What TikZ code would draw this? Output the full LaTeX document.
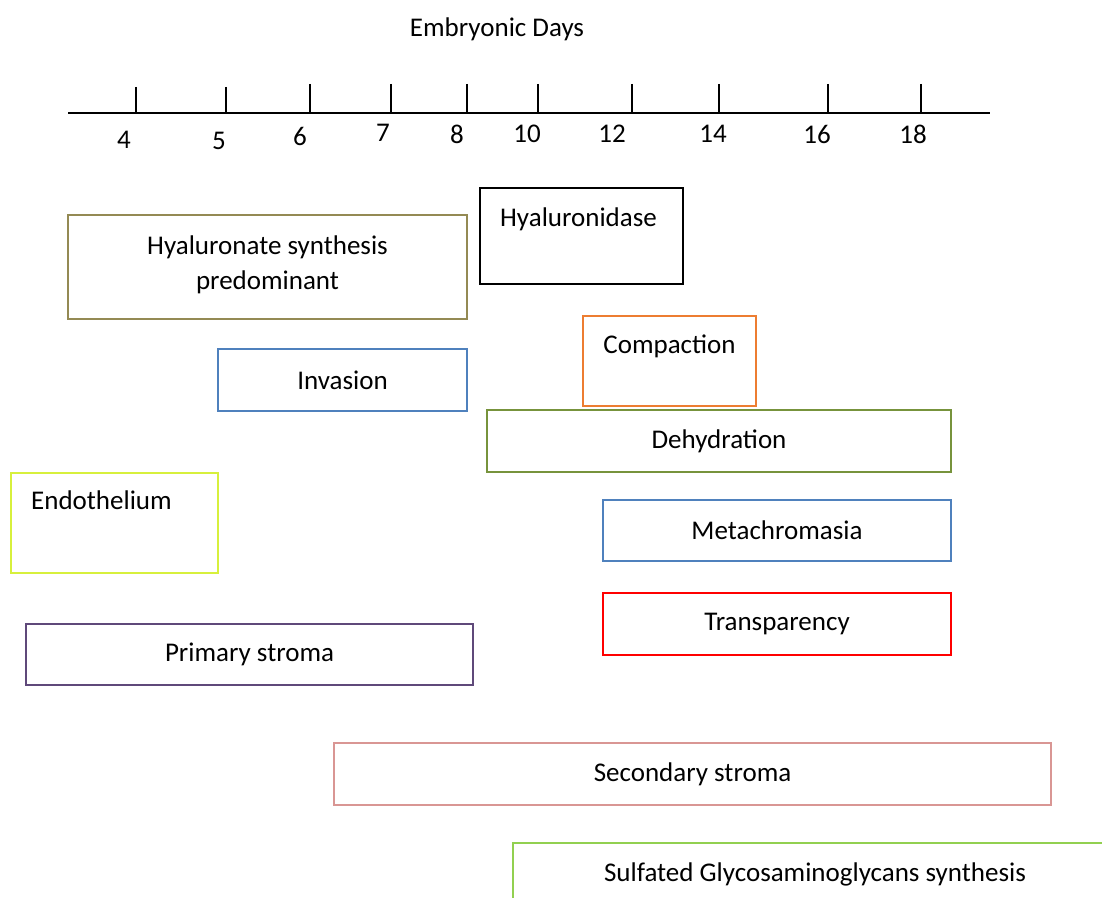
\documentclass[tikz,border=0pt]{standalone}
\usepackage{fontspec}
\setmainfont{Carlito}
\usetikzlibrary{fit}
\definecolor{tanline}{HTML}{948A54}
\definecolor{blueline}{HTML}{4F81BD}
\definecolor{orangeline}{HTML}{ED7D31}
\definecolor{oliveline}{HTML}{77933C}
\definecolor{limeline}{HTML}{D7F03C}
\definecolor{purpleline}{HTML}{5F497A}
\definecolor{pinkline}{HTML}{D99694}
\definecolor{greenline}{HTML}{92D050}
\tikzset{
    phasebox/.style={draw=#1, line width=1pt, inner sep=0pt},
    phasetext/.style={align=center, inner sep=0pt},
    toptext/.style={align=center, inner sep=0pt, anchor=center, yshift=-15.5pt},
    daylabel/.style={inner sep=0pt},
    axisline/.style={line width=1pt}
}
\begin{document}
\begin{tikzpicture}[x=0.5pt, y=-0.5pt, font=\fontsize{13.5}{17.5}\selectfont]
\useasboundingbox (0,0) rectangle (1102,898);
\clip (0,0) rectangle (1102,898);
\node[daylabel] (title) at (497,29) {Embryonic Days};
% time axis
\coordinate (axisstart) at (68,113);
\coordinate (axisend) at (990,113);
\draw[axisline] (axisstart) -- (axisend);
\foreach \tx/\ttop/\lab/\lx/\ly in {136/87/4/124/140, 226/87/5/219/141, 310/84/6/300/136,
    391/84/7/383/133, 467/84/8/457/134, 538/84/10/527/134, 632/84/12/612/134,
    719/84/14/713/134, 828/84/16/817/134, 921/84/18/913/134}{
  \draw[axisline] (\tx,\ttop) -- (\tx,113);
  \node[daylabel] (day\lab) at (\lx,\ly) {\lab};
}
% phases
\node[phasebox=tanline, fit={(68,215) (467,319)},
  label={[phasetext, yshift=1pt]center:Hyaluronate synthesis\\predominant}] (hyalsyn) {};
\node[phasebox=black, fit={(480,188) (683,284)},
  label={[toptext, xshift=-1.5pt, yshift=-0.5pt]north:Hyaluronidase}] (hyaldase) {};
\node[phasebox=blueline, fit={(218,349) (467,411)},
  label={[phasetext]center:Invasion}] (invasion) {};
\node[phasebox=orangeline, fit={(583,316) (756,406)},
  label={[toptext]north:Compaction}] (compaction) {};
\node[phasebox=oliveline, fit={(487,410) (951,472)},
  label={[phasetext]center:Dehydration}] (dehydration) {};
\node[phasebox=limeline, fit={(11,473) (218,573)},
  label={[toptext, xshift=-6.5pt, yshift=1.5pt]north:Endothelium}] (endothelium) {};
\node[phasebox=blueline, fit={(603,500) (951,561)},
  label={[phasetext]center:Metachromasia}] (metachromasia) {};
\node[phasebox=red, fit={(603,593) (951,655)},
  label={[phasetext]center:Transparency}] (transparency) {};
\node[phasebox=purpleline, fit={(26,624) (473,685)},
  label={[phasetext]center:Primary stroma}] (primstroma) {};
\node[phasebox=pinkline, fit={(334,743) (1051,805)},
  label={[phasetext]center:Secondary stroma}] (secstroma) {};
\node[phasebox=greenline, fit={(513,843) (1117,905)},
  label={[phasetext]center:Sulfated Glycosaminoglycans synthesis}] (sulfated) {};
\end{tikzpicture}
\end{document}
